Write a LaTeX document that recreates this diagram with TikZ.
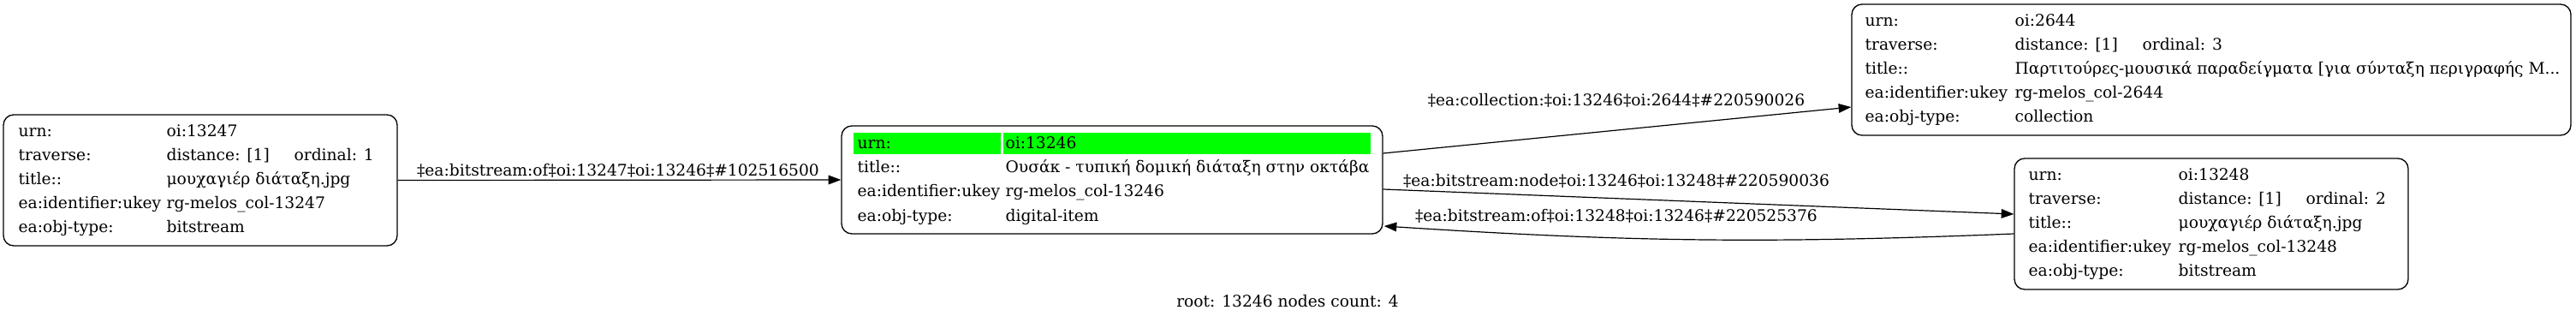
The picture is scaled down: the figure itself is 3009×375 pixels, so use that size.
\documentclass[tikz,border=0pt]{standalone}
\usepackage{fontspec}
\setmainfont{DejaVu Serif}
\usepackage{xcolor}
\usepackage{tikz}
\usetikzlibrary{arrows.meta, calc}
\definecolor{rootgreen}{HTML}{00FF00}
\tikzset{
    objbox/.style={draw, rounded corners=9pt, line width=1pt, inner sep=0pt},
    rowtxt/.style={anchor=base west, inner sep=0pt},
    link/.style={-{Triangle[length=11pt, width=8pt]}, line width=0.9pt},
    linklabel/.style={anchor=base, inner sep=0pt}
}

\begin{document}
\begin{tikzpicture}[x=0.75pt, y=-0.75pt, font=\fontsize{14}{16}\selectfont]
    \useasboundingbox (0, 0) rectangle (3009, 375);

    % Boxes
    \node[objbox, minimum width=345pt, minimum height=114.75pt] (b13247) at (234, 210.5) {};
    \node[objbox, minimum width=474pt, minimum height=94.5pt] (b13246) at (1299, 210) {};
    \node[objbox, minimum width=630pt, minimum height=114.75pt] (b2644) at (2583, 81.5) {};
    \node[objbox, minimum width=345pt, minimum height=114.75pt] (b13248) at (2583, 261.5) {};

    % Root row highlight
    \fill[rootgreen] ($(b13246.north west)+(15, 9)$) rectangle ($(b13246.north west)+(187, 34)$);
    \fill[rootgreen] ($(b13246.north west)+(190, 9)$) rectangle ($(b13246.north west)+(619, 34)$);

    % Rows of 13247
    \foreach \k/\v [count=\i from 0] in {urn:/oi:13247, traverse:/distance: [1], title::/μουχαγιέρ διάταξη.jpg, ea:identifier:ukey/rg-melos\_col-13247, ea:obj-type:/bitstream}{
        \node[rowtxt] (b13247-k\i) at ($(b13247.north west)+(18, 26+28*\i)$) {\k};
        \node[rowtxt] (b13247-v\i) at ($(b13247.north west)+(191, 26+28*\i)$) {\v};
    }
    \node[rowtxt] (b13247-ord) at ($(b13247.north west)+(340, 54)$) {ordinal: 1};

    % Rows of 13246 (root)
    \foreach \k/\v [count=\i from 0] in {urn:/oi:13246, title::/Ουσάκ - τυπική δομική διάταξη στην οκτάβα, ea:identifier:ukey/rg-melos\_col-13246, ea:obj-type:/digital-item}{
        \node[rowtxt] (b13246-k\i) at ($(b13246.north west)+(19, 27+28.3*\i)$) {\k};
        \node[rowtxt] (b13246-v\i) at ($(b13246.north west)+(192, 27+28.3*\i)$) {\v};
    }

    % Rows of 2644
    \foreach \k/\v [count=\i from 0] in {urn:/oi:2644, traverse:/distance: [1], title::/Παρτιτούρες-μουσικά παραδείγματα [για σύνταξη περιγραφής Μ.{}.{}., ea:identifier:ukey/rg-melos\_col-2644, ea:obj-type:/collection}{
        \node[rowtxt] (b2644-k\i) at ($(b2644.north west)+(16, 26+28*\i)$) {\k};
        \node[rowtxt] (b2644-v\i) at ($(b2644.north west)+(191, 26+28*\i)$) {\v};
    }
    \node[rowtxt] (b2644-ord) at ($(b2644.north west)+(340, 54)$) {ordinal: 3};

    % Rows of 13248
    \foreach \k/\v [count=\i from 0] in {urn:/oi:13248, traverse:/distance: [1], title::/μουχαγιέρ διάταξη.jpg, ea:identifier:ukey/rg-melos\_col-13248, ea:obj-type:/bitstream}{
        \node[rowtxt] (b13248-k\i) at ($(b13248.north west)+(17, 26+28*\i)$) {\k};
        \node[rowtxt] (b13248-v\i) at ($(b13248.north west)+(192, 26+28*\i)$) {\v};
    }
    \node[rowtxt] (b13248-ord) at ($(b13248.north west)+(341, 54)$) {ordinal: 2};

    % Links
    \draw[link] (b13247.east) -- (b13246.west);
    \draw[link] ($(b13246.east)+(0, -31)$) -- ($(b2644.west)+(0, 43.5)$);
    \draw[link] ($(b13246.east)+(0, 11)$) -- ($(b13248.west)+(0, -11.5)$);
    \draw[link] ($(b13248.west)+(0, 11.5)$) to[bend left=3] ($(b13246.east)+(1, 54)$);

    % Link labels
    \node[linklabel] (lab1) at (722, 205) {‡ea:bitstream:of‡oi:13247‡oi:13246‡\#102516500};
    \node[linklabel] (lab2) at (1888, 123) {‡ea:collection:‡oi:13246‡oi:2644‡\#220590026};
    \node[linklabel] (lab3) at (1888, 217) {‡ea:bitstream:node‡oi:13246‡oi:13248‡\#220590036};
    \node[linklabel] (lab4) at (1888, 258) {‡ea:bitstream:of‡oi:13248‡oi:13246‡\#220525376};

    % Footer
    \node[linklabel] (foot) at (1504, 358) {root: 13246 nodes count: 4};
\end{tikzpicture}
\end{document}
